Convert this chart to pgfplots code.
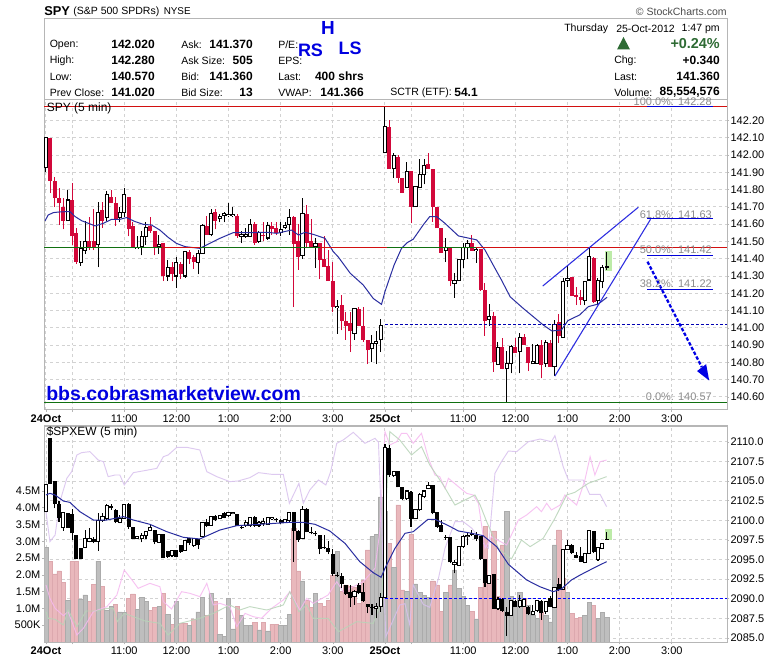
\documentclass[border=0pt]{standalone}
\usepackage{fontspec}
\setmainfont{Liberation Sans}
\usepackage{pgfplots}
\usepackage{pgfplotstable}
\pgfplotsset{compat=1.18}
\definecolor{frm}{HTML}{B6B6B6}
\definecolor{grd}{HTML}{D2D2D2}
\definecolor{upred}{HTML}{D2083A}
\definecolor{mablue}{HTML}{2A2EA0}
\definecolor{lnblue}{HTML}{2C2CE0}
\definecolor{fibgr}{HTML}{8C8C8C}
\definecolor{hlgr}{HTML}{BDEBA8}
\definecolor{vred}{HTML}{E9B8BC}
\definecolor{vredl}{HTML}{DCA8AE}
\definecolor{vgry}{HTML}{BEBEBE}
\definecolor{vgryl}{HTML}{ABABAB}
\definecolor{ppl}{HTML}{D8C0EE}
\definecolor{pnk}{HTML}{F6B8F0}
\definecolor{grn}{HTML}{B8D4B8}
\definecolor{dkgr}{HTML}{2E6B34}
\definecolor{hdblue}{HTML}{0000E0}
\definecolor{hline}{HTML}{D21010}
\definecolor{gline}{HTML}{107010}
% ---------- upper panel, hollow candles
\pgfplotstableread{
i o h l c
0 141.93 142.10 141.90 142.10
5 141.62 141.80 141.62 141.74
8 141.38 141.50 141.36 141.46
9 141.45 141.62 141.43 141.50
12 141.48 141.73 141.35 141.67
14 141.64 141.79 141.62 141.77
17 141.64 141.70 141.61 141.67
18 141.67 141.81 141.64 141.77
21 141.46 141.53 141.46 141.465
22 141.47 141.56 141.42 141.53
23 141.53 141.61 141.48 141.58
26 141.47 141.54 141.43 141.48
28 141.30 141.39 141.27 141.35
30 141.30 141.41 141.23 141.38
32 141.30 141.44 141.29 141.44
35 141.38 141.45 141.31 141.43
36 141.43 141.60 141.43 141.59
38 141.54 141.69 141.53 141.66
40 141.632 141.66 141.61 141.644
41 141.65 141.67 141.61 141.66
42 141.648 141.72 141.64 141.655
43 141.648 141.70 141.64 141.655
45 141.53 141.56 141.49 141.54
46 141.53 141.58 141.52 141.54
47 141.53 141.63 141.53 141.60
49 141.50 141.56 141.49 141.55
51 141.52 141.61 141.51 141.59
54 141.55 141.61 141.53 141.57
55 141.58 141.61 141.57 141.59
56 141.60 141.69 141.54 141.64
59 141.42 141.75 141.40 141.66
62 141.47 141.52 141.345 141.49
67 141.12 141.16 140.965 141.125
71 140.97 141.11 140.93 141.11
75 140.88 140.96 140.80 140.91
76 140.91 140.98 140.79 140.92
77 140.93 141.05 140.86 141.015
78 142.014 142.28 142.01 142.165
80 141.92 142.01 141.87 142.00
83 141.81 141.96 141.81 141.906
85 141.70 141.82 141.70 141.82
86 141.81 141.98 141.81 141.89
87 141.89 141.98 141.83 141.94
92 141.45 141.52 141.38 141.465
94 141.258 141.316 141.175 141.273
95 141.273 141.40 141.27 141.397
96 141.397 141.49 141.345 141.463
97 141.463 141.51 141.397 141.49
99 141.449 141.47 141.378 141.453
102 141.05 141.14 141.01 141.065
104 140.79 140.92 140.785 140.886
106 140.764 140.868 140.57 140.795
107 140.795 140.90 140.737 140.891
109 140.864 140.969 140.737 140.945
112 140.791 140.905 140.791 140.803
113 140.795 140.907 140.795 140.90
115 140.795 140.93 140.776 140.915
117 140.776 141.046 140.72 141.022
119 140.945 141.287 140.945 141.267
120 141.273 141.364 141.235 141.287
124 141.161 141.268 141.132 141.268
125 141.277 141.466 141.277 141.412
127 141.158 141.287 141.132 141.273
128 141.268 141.364 141.229 141.35
129 141.35 141.441 141.335 141.356
}\upW
% ---------- upper panel, red candles
\pgfplotstableread{
i o h l c
1 142.10 142.10 141.78 141.85
2 141.85 141.875 141.698 141.754
3 141.75 141.808 141.595 141.72
4 141.70 141.75 141.57 141.62
6 141.74 141.84 141.48 141.53
7 141.55 141.58 141.37 141.38
10 141.50 141.64 141.45 141.47
11 141.50 141.69 141.45 141.47
13 141.68 141.73 141.58 141.62
15 141.76 141.80 141.72 141.72
16 141.72 141.76 141.59 141.63
19 141.76 141.76 141.53 141.57
20 141.59 141.61 141.47 141.47
24 141.59 141.64 141.55 141.56
25 141.56 141.56 141.42 141.47
27 141.49 141.49 141.27 141.30
29 141.35 141.38 141.27 141.31
31 141.37 141.38 141.28 141.31
33 141.44 141.45 141.37 141.40
34 141.41 141.42 141.34 141.38
37 141.59 141.65 141.54 141.54
39 141.67 141.69 141.57 141.62
44 141.65 141.66 141.52 141.53
48 141.60 141.61 141.48 141.49
50 141.54 141.61 141.50 141.53
52 141.59 141.61 141.54 141.57
53 141.58 141.61 141.54 141.55
57 141.64 141.65 141.12 141.485
58 141.50 141.60 141.335 141.41
60 141.66 141.71 141.47 141.49
61 141.50 141.63 141.47 141.47
63 141.49 141.49 141.28 141.39
64 141.40 141.53 141.35 141.35
65 141.36 141.45 141.27 141.27
66 141.27 141.38 141.09 141.12
68 141.13 141.19 140.985 141.04
69 141.04 141.09 140.93 141.01
70 141.03 141.09 140.86 140.98
72 141.11 141.12 141.01 141.01
73 141.01 141.12 140.92 140.93
74 140.93 140.93 140.79 140.87
79 142.165 142.20 141.92 141.918
81 141.99 142.00 141.84 141.87
82 141.87 141.87 141.78 141.78
84 141.91 141.91 141.605 141.70
88 141.95 142.01 141.92 141.92
89 141.92 141.92 141.615 141.70
90 141.70 141.70 141.575 141.575
91 141.58 141.58 141.435 141.435
93 141.465 141.465 141.24 141.27
98 141.493 141.538 141.447 141.447
100 141.457 141.457 141.216 141.22
101 141.22 141.262 140.953 141.042
103 141.069 141.094 140.747 140.805
105 140.888 140.944 140.76 140.764
108 140.891 140.94 140.853 140.853
110 140.945 140.965 140.90 140.90
111 140.888 140.888 140.75 140.795
114 140.90 140.93 140.708 140.785
116 140.915 140.93 140.776 140.776
118 141.036 141.078 140.915 140.953
121 141.293 141.293 141.186 141.186
122 141.19 141.238 141.132 141.18
123 141.177 141.219 141.132 141.161
126 141.403 141.412 141.146 141.152
}\upR
% ---------- lower panel, hollow candles
\pgfplotstableread{
i o h l c
0 2101.11 2104.64 2101.11 2104.64
4 2099.07 2100.99 2098.65 2100.99
9 2096.52 2098.77 2096.44 2097.63
10 2097.29 2098.99 2097.20 2097.63
12 2097.29 2100.90 2096.10 2100.05
13 2100.05 2100.90 2099.84 2100.48
14 2100.26 2102.05 2100.05 2101.88
17 2099.75 2100.69 2099.63 2100.26
18 2100.26 2102.09 2100.26 2102.09
21 2097.63 2097.92 2097.59 2097.92
22 2097.63 2098.35 2097.20 2098.05
23 2098.05 2098.56 2097.59 2098.56
24 2098.77 2099.50 2098.65 2099.07
26 2097.20 2098.22 2097.16 2098.22
29 2095.50 2096.14 2095.37 2096.14
32 2096.14 2097.41 2096.14 2097.41
34 2096.86 2097.63 2096.65 2097.63
36 2097.92 2099.75 2097.92 2099.75
38 2099.41 2100.56 2099.33 2100.56
40 2100.18 2100.60 2100.18 2100.60
42 2100.60 2101.11 2100.48 2101.03
43 2100.90 2101.11 2100.77 2101.03
46 2099.33 2100.05 2099.20 2099.75
47 2099.33 2100.48 2099.20 2100.39
49 2099.33 2099.92 2099.20 2099.75
50 2099.63 2100.26 2099.33 2099.84
51 2099.54 2100.48 2099.50 2100.39
52 2100.18 2100.48 2100.05 2100.35
55 2099.75 2100.18 2099.75 2100.14
56 2100.05 2101.11 2099.84 2101.03
59 2097.63 2101.84 2097.59 2101.41
71 2090.27 2091.12 2089.21 2090.91
76 2088.78 2089.42 2087.51 2089.08
77 2089.00 2090.70 2088.36 2090.19
78 2090.19 2109.70 2090.19 2109.28
80 2105.71 2106.30 2105.58 2106.30
83 2102.73 2103.75 2102.60 2103.75
85 2100.18 2101.33 2100.18 2101.33
86 2101.33 2103.45 2101.20 2103.24
87 2103.03 2103.75 2102.81 2103.75
88 2104.09 2104.86 2104.00 2104.43
94 2094.40 2094.95 2093.25 2094.65
95 2094.31 2096.73 2094.23 2096.73
96 2096.73 2098.14 2096.44 2097.92
97 2097.92 2098.56 2096.86 2098.05
102 2091.97 2093.03 2091.97 2093.03
104 2088.70 2090.27 2088.57 2089.97
107 2087.85 2089.72 2087.85 2089.72
109 2089.00 2090.48 2088.87 2089.72
110 2089.00 2089.85 2089.00 2089.85
112 2088.02 2089.21 2087.93 2088.36
113 2088.57 2089.72 2088.27 2089.72
115 2088.36 2089.72 2088.02 2089.63
117 2088.87 2091.55 2088.78 2091.42
119 2091.21 2096.31 2091.21 2096.31
120 2096.35 2097.50 2096.22 2096.86
124 2094.65 2095.80 2094.52 2095.80
125 2095.80 2098.69 2095.80 2098.69
127 2094.95 2096.52 2094.86 2096.52
128 2096.44 2097.07 2096.35 2097.07
}\loW
% ---------- lower panel, solid candles
\pgfplotstableread{
i o h l c
1 2110.47 2110.47 2104.64 2104.64
2 2105.03 2105.03 2101.54 2102.09
3 2102.09 2102.47 2099.84 2100.35
5 2100.99 2100.99 2099.07 2099.07
6 2100.77 2101.45 2097.50 2098.35
7 2098.14 2098.14 2095.08 2095.08
8 2096.52 2096.52 2095.03 2095.03
11 2097.63 2097.92 2097.07 2097.29
15 2101.84 2102.05 2101.33 2101.54
16 2101.33 2101.45 2099.63 2099.75
19 2102.09 2102.18 2098.90 2099.20
20 2099.20 2099.20 2097.59 2097.59
25 2098.77 2098.77 2096.95 2097.20
27 2098.22 2098.22 2095.16 2095.16
28 2096.14 2096.14 2095.25 2095.37
30 2096.22 2096.22 2095.37 2095.37
31 2096.86 2096.86 2095.88 2096.01
33 2097.71 2097.80 2096.86 2097.07
35 2097.59 2097.59 2096.35 2096.86
37 2099.84 2100.18 2099.20 2099.29
39 2100.60 2100.69 2099.92 2100.05
41 2100.90 2101.03 2100.26 2100.35
44 2100.82 2100.82 2099.33 2099.33
45 2099.20 2099.41 2098.90 2099.07
48 2100.39 2100.60 2099.20 2099.33
53 2100.18 2100.35 2099.84 2100.05
54 2100.05 2100.18 2099.50 2099.63
57 2101.03 2101.11 2094.74 2098.65
58 2098.65 2098.77 2097.29 2097.50
60 2101.41 2101.54 2098.48 2098.48
61 2098.56 2099.20 2098.22 2098.35
62 2098.35 2098.65 2098.05 2098.22
63 2098.14 2098.14 2095.67 2096.35
64 2096.65 2098.14 2096.35 2096.44
65 2096.44 2097.37 2095.67 2096.01
66 2095.67 2096.31 2092.95 2093.16
67 2093.03 2093.46 2092.82 2092.95
68 2092.91 2093.33 2091.42 2091.89
69 2091.76 2091.76 2090.48 2090.61
70 2090.82 2091.76 2089.00 2090.14
72 2091.76 2091.97 2090.57 2090.70
73 2090.82 2091.97 2089.63 2089.76
74 2089.34 2089.34 2088.14 2088.91
75 2089.00 2089.29 2087.93 2088.78
79 2109.19 2109.62 2105.58 2105.79
81 2106.34 2106.34 2104.22 2104.22
82 2104.22 2104.30 2102.64 2102.73
84 2103.67 2103.75 2099.20 2100.18
89 2104.52 2104.52 2100.77 2100.90
90 2101.11 2101.11 2099.07 2099.20
91 2099.41 2100.05 2098.48 2098.56
92 2097.92 2098.14 2097.50 2097.80
93 2097.84 2097.84 2094.52 2094.65
98 2098.35 2098.77 2098.05 2098.14
99 2098.14 2098.56 2097.37 2097.63
100 2098.05 2098.05 2094.95 2095.08
101 2095.03 2095.03 2091.55 2091.97
103 2093.16 2093.16 2088.70 2088.70
105 2089.93 2090.14 2088.36 2088.44
106 2088.36 2089.00 2085.30 2087.85
108 2089.72 2089.85 2089.00 2089.00
111 2089.00 2089.08 2087.93 2088.02
114 2089.72 2089.85 2087.30 2088.14
116 2090.14 2090.40 2088.91 2089.00
118 2091.89 2092.69 2090.99 2091.12
121 2096.86 2096.95 2095.71 2095.80
122 2095.59 2096.01 2095.16 2095.25
123 2095.50 2096.65 2094.65 2094.74
126 2098.65 2098.65 2095.80 2095.93
129 2097.63 2098.48 2097.54 2097.54
}\loB
% ---------- volume (millions)
\pgfplotstableread[row sep=\\]{
i v\\ 1 2.41\\ 2 2.03\\ 3 2.12\\ 4 1.78\\ 6 2.39\\ 7 2.39\\ 10 1.2\\ 11 1.72\\ 13 1.65\\ 16 1.13\\ 19 1.30\\ 20 1.43\\ 24 .95\\ 25 1.02\\ 27 1.45\\ 29 .53\\ 31 .56\\ 32 .56\\ 34 .69\\ 37 .8\\ 39 1.2\\ 44 1.06\\ 48 .59\\ 50 .59\\ 52 .53\\ 53 .53\\ 57 3.39\\ 58 2.12\\ 60 1.25\\ 61 1.02\\ 63 1.15\\ 64 1.05\\ 65 1.25\\ 66 2.0\\ 68 1.5\\ 69 1.7\\ 70 1.65\\ 71 1.62\\ 72 1.15\\ 73 1.85\\ 74 2.74\\ 79 2.94\\ 81 4.08\\ 82 1.55\\ 84 3.2\\ 89 1.82\\ 90 1.7\\ 91 .92\\ 93 1.7\\ 98 .92\\ 100 1.62\\ 101 3.44\\ 102 1.9\\ 103 3.31\\ 104 1.35\\ 105 2.89\\ 110 1.3\\ 114 .9\\ 118 3.34\\ 119 1.9\\ 121 .85\\ 122 .7\\ 123 .74\\ 126 1.1\\
}\vR
\pgfplotstableread[row sep=\\]{
i v\\ 0 2.82\\ 5 1.25\\ 8 1.28\\ 9 1.40\\ 12 2.41\\ 14 .95\\ 15 1.07\\ 17 .9\\ 18 .88\\ 21 .98\\ 22 1.33\\ 23 1.2\\ 26 1.05\\ 28 .82\\ 30 1.2\\ 33 .5\\ 35 .9\\ 36 1.33\\ 38 1.45\\ 40 .23\\ 41 .16\\ 42 1.31\\ 43 .39\\ 45 .79\\ 46 .5\\ 47 .5\\ 49 .36\\ 51 .33\\ 54 .5\\ 55 .49\\ 56 .83\\ 59 1.82\\ 62 1.45\\ 67 2.69\\ 75 3.14\\ 76 3.2\\ 77 4.32\\ 78 3.9\\ 80 2.22\\ 83 1.5\\ 85 1.73\\ 86 1.48\\ 87 1.38\\ 88 1.32\\ 92 1.48\\ 94 2.15\\ 95 1.6\\ 96 1.35\\ 97 1.08\\ 99 .69\\ 106 3.88\\ 107 1.35\\ 108 1.2\\ 109 1.48\\ 111 1.1\\ 112 .8\\ 113 .7\\ 115 .8\\ 116 .6\\ 117 2.89\\ 120 1.48\\ 124 .8\\ 125 1.18\\ 127 .7\\ 128 .88\\ 129 .74\\
}\vG
% ---------- candle helpers
\newcommand{\wick}[3]{\addplot[draw=none,mark=none,forget plot,error bars/.cd,y dir=both,y explicit,error mark=none,error bar style={draw=#2,solid,line width=#3}] table[x=i,y=l,y error plus expr=\thisrow{h}-\thisrow{l},y error minus expr=0]{#1};}
\newcommand{\solidbody}[2]{\addplot[draw=none,mark=none,forget plot,error bars/.cd,y dir=both,y explicit,error mark=none,error bar style={draw=#2,solid,line width=3pt}] table[x=i,y=c,y error plus expr=\thisrow{o}-\thisrow{c},y error minus expr=0]{#1};}
\newcommand{\hollowbody}[2]{%
\addplot[draw=none,mark=none,forget plot,error bars/.cd,y dir=both,y explicit,error mark=none,error bar style={draw=black,solid,line width=3.15pt}] table[x=i,y expr=\thisrow{o}-#2,y error plus expr=\thisrow{c}-\thisrow{o}+2*#2,y error minus expr=0]{#1};
\addplot[draw=none,mark=none,forget plot,error bars/.cd,y dir=both,y explicit,error mark=none,error bar style={draw=white,solid,line width=1.65pt}] table[x=i,y expr=\thisrow{o}+#2,y error plus expr=\thisrow{c}-\thisrow{o}-2*#2,y error minus expr=0]{#1};}
\newcommand{\tf}{\fontsize{8.25}{10}\selectfont}
\pgfplotsset{
 base/.style={anchor=south west,scale only axis,width=512.25pt,clip=true,
  xmin=-0.46,xmax=156.7,
  axis line style={draw=frm,line width=0.75pt},
  major tick length=1.5pt,tick style={draw=frm,line width=0.5pt},
  tick align=outside,
  tick label style={font=\tf,inner sep=0pt},
  xtick={0,6,18,30,42,54,66,78,84,96,108,120,132,144},
  xticklabels={\textbf{24Oct},,11:00,12:00,1:00,2:00,3:00,\textbf{25Oct},,11:00,12:00,1:00,2:00,3:00},
  xtick pos=bottom,
  x tick label style={anchor=north,yshift=-2.1pt},
 },
 griddy/.style={grid=major,grid style={draw=grd,line width=0.75pt,dash pattern=on 2.2pt off 2.2pt}},
 priceR/.style={ytick pos=right,yticklabel pos=right,
  y tick label style={anchor=west,xshift=1pt},
  /pgf/number format/assume math mode=true,
  /pgf/number format/1000 sep={},
  /pgf/number format/fixed,/pgf/number format/fixed zerofill,
 },
}
\begin{document}
\begin{tikzpicture}
\useasboundingbox[fill=white] (0pt,0pt) rectangle (585pt,494.25pt);
% ================ upper panel
\begin{axis}[base,griddy,priceR,at={(33pt,186.75pt)},height=232.5pt,
 ymin=140.5247,ymax=142.3186,
 ytick={140.6,140.7,140.8,140.9,141.0,141.1,141.2,141.3,141.4,141.5,141.6,141.7,141.8,141.9,142.0,142.1,142.2},
 /pgf/number format/precision=2,
]
\addplot[fill=hlgr,draw=none,forget plot] coordinates {(128.7,141.445)(130.3,141.445)(130.3,141.33)(128.7,141.33)} -- cycle;
\wick{\upR}{upred}{0.75pt}
\wick{\upW}{black}{0.75pt}
\solidbody{\upR}{upred}
\hollowbody{\upW}{0.003}
% moving average
\addplot[mablue,line width=0.75pt,forget plot] coordinates {(-0.2,141.62)(0.5,141.653)(1.7,141.667)(3.2,141.671)(5.5,141.673)(6.7,141.644)(8.2,141.62)(11.3,141.59)(13.2,141.605)(15.1,141.628)(17,141.628)(18.5,141.638)(20.5,141.615)(22.4,141.599)(24.3,141.595)(26.2,141.566)(28.1,141.524)(30,141.489)(32,141.47)(35.4,141.46)(37.7,141.489)(40,141.518)(43.1,141.551)(46.9,141.551)(50.8,141.553)(53.1,141.547)(56.5,141.566)(58.1,141.537)(59.6,141.553)(61.5,141.541)(64.2,141.518)(66.1,141.441)(67.2,141.412)(70,141.316)(73,141.248)(75.3,141.17)(77.2,141.136)(78,141.21)(80.1,141.364)(81.8,141.46)(83.1,141.493)(84.5,141.513)(86.8,141.596)(88.3,141.644)(89.9,141.644)(91.8,141.605)(94.9,141.532)(99.1,141.509)(101,141.451)(103.3,141.345)(104.8,141.277)(106.8,141.18)(109.8,141.113)(114.4,141.017)(116.4,140.982)(118.6,140.988)(120.1,141.042)(122.8,141.075)(124.8,141.123)(127.1,141.138)(129.1,141.177)};
% reference lines
\addplot[hline,line width=0.75pt,forget plot] coordinates {(-0.46,142.28)(156.7,142.28)};
\addplot[gline,line width=0.75pt,forget plot] coordinates {(-0.46,140.57)(156.7,140.57)};
\addplot[gline,line width=0.75pt,forget plot] coordinates {(-0.46,141.466)(26.7,141.466)};
\addplot[hline,line width=0.75pt,forget plot] coordinates {(26.7,141.466)(35.4,141.466)};
\addplot[gline,line width=0.75pt,forget plot] coordinates {(35.4,141.466)(63,141.466)};
\addplot[hline,line width=0.75pt,forget plot] coordinates {(63,141.466)(78.5,141.466)};
\addplot[gline,line width=0.75pt,forget plot] coordinates {(78.5,141.466)(98.9,141.466)};
\addplot[hline,line width=0.75pt,forget plot] coordinates {(98.9,141.466)(156.7,141.466)};
\addplot[blue!70!black,line width=0.75pt,dash pattern=on 2.2pt off 1.5pt,forget plot] coordinates {(78,141.02)(156.7,141.02)};
% fibonacci levels
\addplot[blue!85!black,line width=0.75pt,forget plot] coordinates {(138.3,142.28)(153.5,142.28)};
\addplot[blue!85!black,line width=0.75pt,forget plot] coordinates {(138.3,141.63)(153.5,141.63)};
\addplot[blue!85!black,line width=0.75pt,forget plot] coordinates {(138.3,141.42)(153.5,141.42)};
\addplot[blue!85!black,line width=0.75pt,forget plot] coordinates {(138.3,141.22)(153.5,141.22)};
% hand-drawn wedge and arrow
\addplot[lnblue,line width=0.8pt,forget plot] coordinates {(114.3,141.242)(136.3,141.698)};
\addplot[lnblue,line width=0.8pt,forget plot] coordinates {(117.1,140.721)(139.1,141.628)};
\addplot[blue!90!black,line width=1.7pt,dash pattern=on 2.6pt off 1.4pt,forget plot] coordinates {(138.4,141.383)(150.9,140.773)};
\addplot[fill=blue!90!black,draw=none,forget plot] coordinates {(152.6,140.695)(149.8,140.75)(151.9,140.79)} -- cycle;
\end{axis}
% ================ lower panel: price grid and ticks
\begin{axis}[base,griddy,priceR,at={(33pt,12.75pt)},height=162pt,
 ymin=2084.49,ymax=2112.04,
 ytick={2085,2087.5,2090,2092.5,2095,2097.5,2100,2102.5,2105,2107.5,2110},
 /pgf/number format/precision=1,
 xticklabels={},
]
\addplot[draw=none,forget plot] coordinates {(0,2090)(129,2090)};
\end{axis}
% ================ lower panel: volume
\begin{axis}[base,at={(33pt,12.75pt)},height=162pt,
 ybar,bar width=3.25pt,bar shift=0pt,
 ymin=0,ymax=6.432,
 ytick={0.5,1,1.5,2,2.5,3,3.5,4,4.5},
 yticklabels={500K,1.0M,1.5M,2.0M,2.5M,3.0M,3.5M,4.0M,4.5M},
 ytick pos=left,
 y tick label style={anchor=east,xshift=-1pt},
]
\addplot[bar shift=0pt,fill=vred,draw=vredl,line width=0.4pt,forget plot] table[x=i,y=v]{\vR};
\addplot[bar shift=0pt,fill=vgry,draw=vgryl,line width=0.4pt,forget plot] table[x=i,y=v]{\vG};
\end{axis}
% ================ lower panel: overlays and candles
\begin{axis}[base,at={(33pt,12.75pt)},height=162pt,
 ymin=2084.49,ymax=2112.04,
 xtick=\empty,ytick=\empty,
]
\addplot[ppl,line width=0.7pt,opacity=.85,forget plot] coordinates {(0,2101.11)(.9,2097.29)(2.1,2098.14)(3.2,2102.39)(4.8,2105.37)(5.9,2106.22)(7.1,2108.34)(8.2,2108.64)(10.1,2108.77)(12,2107.70)(13.2,2107.49)(14.3,2105.58)(15.9,2105.79)(17,2105.79)(18,2104.52)(20.1,2106.09)(23.5,2106.43)(25.5,2106.64)(27,2108.13)(28.1,2108.34)(30.1,2109.32)(32.4,2109.32)(35.4,2108.98)(37,2106.22)(39.3,2105.58)(42.3,2104.94)(44.2,2105.03)(46.9,2105.45)(48.9,2106.09)(51.9,2105.88)(54.6,2105.88)(56,2102.18)(58.2,2104.73)(59.2,2102.18)(60.7,2103.88)(62.7,2105.15)(64.4,2104.52)(65.5,2106.22)(66.9,2109.83)(68.4,2110.26)(70.7,2111.23)(73.4,2109.83)(75.7,2110.47)(76.5,2109.96)(78.2,2085.17)(81.4,2089.21)(82.6,2089.38)(83.7,2086.66)(84.5,2091.76)(86.8,2089.29)(88.3,2088.91)(90.3,2092.61)(91.8,2096.44)(94.1,2099.84)(96,2099.84)(98,2098.99)(100.2,2097.29)(101.8,2096.44)(103.3,2106.00)(104.8,2107.49)(106.4,2108.85)(108.3,2108.77)(111,2110.04)(113.7,2110.38)(116.3,2110.04)(117.1,2110.81)(119,2106.85)(120.2,2105.15)(123.6,2105.15)(125.1,2103.32)(127.5,2103.32)(129,2101.75)};
\addplot[pnk,line width=0.7pt,opacity=.85,forget plot] coordinates {(0,2091.76)(.9,2090.06)(2.1,2088.78)(4,2087.85)(5.1,2088.36)(7.1,2085.38)(8.6,2086.23)(10.9,2088.36)(14,2089.00)(16.3,2090.48)(18,2093.67)(20.1,2092.18)(21.2,2091.33)(23.9,2091.97)(26.2,2091.55)(27,2089.63)(28.9,2088.70)(31.2,2090.91)(33.1,2090.70)(35.4,2090.27)(37,2091.97)(38.5,2089.21)(40,2089.42)(42.3,2089.00)(43.9,2086.44)(45.8,2088.14)(47.7,2087.72)(49.6,2087.51)(51.9,2088.78)(54.6,2089.85)(56.1,2090.91)(58.4,2088.57)(60,2090.06)(61.5,2089.42)(64.9,2090.48)(66.9,2092.18)(68.4,2090.91)(73,2092.18)(75.7,2093.89)(76.8,2098.56)(78,2111.32)(79.1,2109.62)(80.7,2110.04)(81.8,2111.11)(83,2111.11)(84.5,2109.83)(86.4,2111.11)(88,2107.92)(89.5,2105.79)(90.6,2105.58)(91.8,2104.09)(92.6,2105.37)(94.9,2104.30)(96.8,2103.45)(98.3,2103.24)(99.5,2102.18)(101,2096.44)(102.5,2097.92)(106,2096.86)(108.7,2100.05)(110.6,2100.69)(112.9,2101.75)(114,2101.11)(115.2,2102.18)(116.3,2101.33)(118.3,2101.96)(119.4,2103.24)(122.1,2101.96)(124,2105.15)(125.2,2108.13)(126.3,2105.79)(127.5,2107.49)(129,2107.70)};
\addplot[grn,line width=0.7pt,opacity=.85,forget plot] coordinates {(0,2088.36)(.5,2087.51)(2.1,2087.38)(4,2086.66)(5.1,2088.57)(7.1,2086.44)(9.2,2088.44)(11.7,2088.44)(14,2088.78)(15.5,2088.78)(16.4,2087.08)(18,2088.14)(20.1,2087.72)(22.8,2087.17)(26.2,2086.87)(28.1,2085.38)(30.8,2086.87)(35.4,2087.51)(38.5,2088.14)(42.3,2089.21)(44.6,2088.57)(46.9,2089.00)(50.8,2088.57)(54.6,2089.21)(56.1,2090.91)(58.2,2088.36)(60,2089.21)(61.5,2087.51)(64.9,2087.51)(67.3,2085.81)(71.5,2087.08)(75.3,2086.87)(77.2,2089.63)(79.1,2111.32)(81.4,2110.26)(84.1,2108.34)(86.4,2109.41)(88.3,2107.07)(91.4,2104.52)(94.1,2101.96)(98.7,2103.24)(99.9,2101.96)(101.4,2099.84)(104.1,2096.44)(107.1,2095.08)(109.4,2097.50)(111.4,2096.65)(114.4,2097.71)(117.1,2100.26)(119.8,2103.24)(121.7,2103.58)(124.8,2104.73)(129,2105.58)};
\addplot[fill=hlgr,draw=none,forget plot] coordinates {(128.7,2098.9)(130.3,2098.9)(130.3,2097.45)(128.7,2097.45)} -- cycle;
\addplot[blue,line width=0.75pt,dash pattern=on 2.2pt off 1.5pt,forget plot] coordinates {(78,2090)(156.7,2090)};
\wick{\loB}{black}{0.85pt}
\wick{\loW}{black}{0.85pt}
\solidbody{\loB}{black}
\hollowbody{\loW}{0.064}
\addplot[mablue,line width=0.75pt,forget plot] coordinates {(0,2103.24)(.9,2103.45)(2.1,2103.24)(4,2102.47)(5.5,2102.30)(7.8,2101.11)(10.9,2100.05)(14,2100.05)(17.8,2100.48)(20.1,2100.05)(23.9,2099.50)(27.8,2098.56)(31.6,2097.84)(35.4,2097.63)(40,2098.77)(43.9,2099.33)(49.2,2099.50)(56.1,2099.75)(59.2,2099.75)(61.9,2099.50)(65.3,2098.65)(68.8,2097.07)(72.2,2094.74)(75.3,2093.33)(77.1,2092.74)(78,2093.89)(80.3,2096.44)(82.6,2098.35)(84.5,2098.56)(87.9,2100.14)(89.5,2100.14)(92.6,2099.33)(94.9,2098.65)(98,2098.35)(100.6,2098.05)(103.7,2096.65)(106.4,2094.40)(110.6,2092.40)(113.6,2091.55)(116.7,2090.91)(118.6,2091.25)(120.9,2092.40)(122.9,2093.03)(125.9,2093.89)(129,2094.74)};
\end{axis}
% ================ header and annotations
\begin{scope}[shift={(0pt,494.25pt)},x=0.75pt,y=-0.75pt,every node/.style={inner sep=0pt}]
\draw[frm,line width=0.75pt] (44,19) rectangle (727,100);
\newcommand{\lab}[3]{\node[anchor=west] at (#1,#2) {\fontsize{7.9}{9}\selectfont #3};}
\newcommand{\val}[3]{\node[anchor=east] at (#1,#2) {\fontsize{9}{11}\selectfont\bfseries #3};}
\node[anchor=west] at (44,11) {\fontsize{9.6}{11}\selectfont\bfseries SPY};
\node[anchor=west] at (73,11.5) {\fontsize{7.9}{9}\selectfont (S\&P 500 SPDRs)};
\node[anchor=west] at (163.5,11.5) {\fontsize{7.4}{9}\selectfont NYSE};
\node[anchor=east,text=black!70] at (727,12) {\fontsize{7.9}{9}\selectfont © StockCharts.com};
\lab{49.5}{44.5}{Open:}\lab{49.5}{60.5}{High:}\lab{49.5}{76.5}{Low:}\lab{49.5}{92.5}{Prev Close:}
\val{155}{44.5}{142.020}\val{155}{60.5}{142.280}\val{155}{76.5}{140.570}\val{155}{92.5}{141.020}
\lab{181}{44.5}{Ask:}\lab{181}{60.5}{Ask Size:}\lab{181}{76.5}{Bid:}\lab{181}{92.5}{Bid Size:}
\val{253}{44.5}{141.370}\val{253}{60.5}{505}\val{253}{76.5}{141.360}\val{253}{92.5}{13}
\lab{278}{44.5}{P/E:}\lab{278}{60.5}{EPS:}\lab{278}{76.5}{Last:}\lab{278}{92.5}{VWAP:}
\val{364}{76.5}{400 shrs}\val{364}{92.5}{141.366}
\lab{390}{92.5}{SCTR (ETF):}\val{478}{92.5}{54.1}
\lab{564}{28.5}{Thursday}\lab{616}{28.5}{25-Oct-2012}
\node[anchor=east] at (720,28.5) {\fontsize{7.9}{9}\selectfont 1:47 pm};
\fill[dkgr] (617,49.5) -- (630,49.5) -- (623.5,37) -- cycle;
\node[anchor=east,text=dkgr] at (720,44) {\fontsize{10.8}{12}\selectfont\bfseries +0.24\%};
\lab{614}{60.5}{Chg:}\lab{614}{76.5}{Last:}\lab{614}{92.5}{Volume:}
\val{720}{60.5}{+0.340}\val{720}{76.5}{141.360}\val{720}{92.5}{85,554,576}
\node[anchor=center,text=hdblue] at (328,28) {\fontsize{14.2}{16}\selectfont\bfseries H};
\node[anchor=center,text=hdblue] at (310.5,50) {\fontsize{13.5}{16}\selectfont\bfseries RS};
\node[anchor=center,text=hdblue] at (350,48) {\fontsize{13.5}{16}\selectfont\bfseries LS};
\node[anchor=west] at (46.5,108) {\fontsize{9}{11}\selectfont SPY (5 min)};
\node[anchor=west] at (46.5,432) {\fontsize{9}{11}\selectfont \$SPXEW (5 min)};
\node[anchor=west,text=hdblue] at (46,394) {\fontsize{14.6}{17}\selectfont\bfseries bbs.cobrasmarketview.com};
\newcommand{\fib}[2]{\node[anchor=east,text=fibgr] at (712,#1) {\tf #2};}
\fib{102}{100.0\%: 142.28}\fib{214.5}{61.8\%: 141.63}\fib{249.5}{50.0\%: 141.42}\fib{283.5}{38.2\%: 141.22}\fib{397}{0.0\%: 140.57}
\end{scope}
\end{tikzpicture}
\end{document}
